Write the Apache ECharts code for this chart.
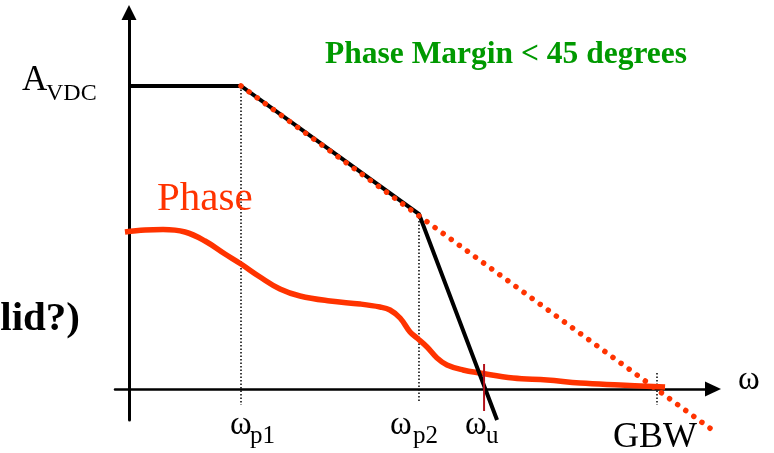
<!DOCTYPE html>
<html><head><meta charset="utf-8">
<script src="https://cdn.jsdelivr.net/npm/echarts@6/dist/echarts.min.js"></script>
<style>html,body{margin:0;padding:0;background:#fff}#c{width:774px;height:453px}</style>
</head><body><div id="c"></div>
<script>
// x: log-frequency (decades, origin at the y axis); y: gain in dB (phase shown on the same scale)
const tickX = [1.0, 2.589, 3.17, 4.714];          // ωp1, ωp2, ωu, GBW
const gainX = [0, 1.0, 2.589, 3.286];
const gainY = [80, 80, 46.2, -8.2];
const asymX = [1.0, 5.259];                         // -20 dB/dec asymptote
const asymY = [80, -11.9];
const phaseX = [-0.036, 0.143, 0.304, 0.5, 0.679, 0.857, 1.0, 1.17, 1.348, 1.527, 1.795, 2.063, 2.241, 2.33, 2.42, 2.509, 2.571, 2.661, 2.75, 2.839, 2.982, 3.134, 3.429, 3.732, 4.027, 4.384, 4.786];
const phaseY = [41.45, 41.98, 42.11, 41.45, 39.08, 35.64, 33.0, 29.57, 26.4, 24.55, 23.23, 22.44, 21.65, 20.86, 18.75, 15.05, 13.47, 11.09, 8.18, 6.34, 5.02, 4.22, 2.9, 2.38, 1.58, 1.06, 0.53];
const guideTop = [80, 46.2, null, 4.2];             // dotted guide tops at ωp1, ωp2, GBW
const guideBottom = [-4.2, -3.4, null, -4.2];
const unityTick = [6.6, -5.8];                      // red marker at ωu
const AVDC = 80;

const zip = (xs, ys) => xs.map((x, i) => [x, ys[i]]);
const serif = '"Liberation Serif", "Times New Roman", "DejaVu Serif", serif';

const guides = [];
tickX.forEach((x, i) => {
  if (guideTop[i] == null) return;
  guides.push({
    type: 'line', data: [[x, guideTop[i]], [x, guideBottom[i]]], symbol: 'none', clip: false, z: 1,
    lineStyle: { color: '#000', width: 1.5, type: [1.5, 2] }
  });
});

const chart = echarts.init(document.getElementById('c'), null, { renderer: 'canvas' });
chart.setOption({
  animation: false,
  backgroundColor: '#fff',
  grid: { left: 115, right: 61, top: 12.5, bottom: 33 },
  xAxis: {
    type: 'value', min: -0.125, max: 5.214,
    axisLine: { show: true, onZero: true, symbol: ['none', 'triangle'], symbolSize: [15, 16], lineStyle: { color: '#000', width: 2.5 } },
    axisTick: { show: false }, axisLabel: { show: false }, splitLine: { show: false }
  },
  yAxis: {
    type: 'value', min: -8.18, max: 99.4,
    axisLine: { show: true, onZero: true, symbol: ['none', 'triangle'], symbolSize: [15, 15], lineStyle: { color: '#000', width: 3 } },
    axisTick: { show: false }, axisLabel: { show: false }, splitLine: { show: false }
  },
  series: guides.concat([
    { type: 'line', data: zip([tickX[2], tickX[2]], unityTick), symbol: 'none', clip: false, z: 5,
      lineStyle: { color: '#b3121b', width: 2 } },
    { type: 'line', data: zip(phaseX, phaseY), symbol: 'none', smooth: 0.4, clip: false, z: 3,
      lineStyle: { color: '#ff3300', width: 5.5, cap: 'butt' } },
    { type: 'line', data: zip(gainX, gainY), symbol: 'none', clip: false, z: 4,
      lineStyle: { color: '#000', width: 4, join: 'miter' } },
    { type: 'line', data: zip(asymX, asymY), symbol: 'none', clip: false, z: 6,
      lineStyle: { color: '#ff3300', width: 5.5, type: [0.01, 10], cap: 'round' } }
  ])
});

function txt(text, x, y, size, color, weight, align) {
  return { type: 'text', silent: true, z: 100, style: {
    text: text, x: x, y: y, fill: color || '#000', align: align || 'left', verticalAlign: 'middle',
    font: (weight || 'normal') + ' ' + size + 'px ' + serif } };
}
const yA = chart.convertToPixel({ gridIndex: 0 }, [0, AVDC])[1];
const subs = [['p1', 230, 250], ['p2', 390, 413], ['u', 465, 486]];
const els = [
  txt('A', 22, yA - 5, 35),
  txt('VDC', 46, yA + 7.5, 24),
  txt('Phase', 157, 199, 41, '#ff3300'),
  txt('Phase Margin < 45 degrees', 325, 54.5, 31.5, '#009900', 'bold'),
  txt('lid?)', 80, 319, 41, '#000', 'bold', 'right'),
  txt('GBW', 613, 437.5, 36),
  txt('ω', 738, 380, 33)
];
subs.forEach(s => { els.push(txt('ω', s[1], 425, 33)); els.push(txt(s[0], s[2], 436, 25)); });
chart.setOption({ graphic: { elements: els } });
</script></body></html>
